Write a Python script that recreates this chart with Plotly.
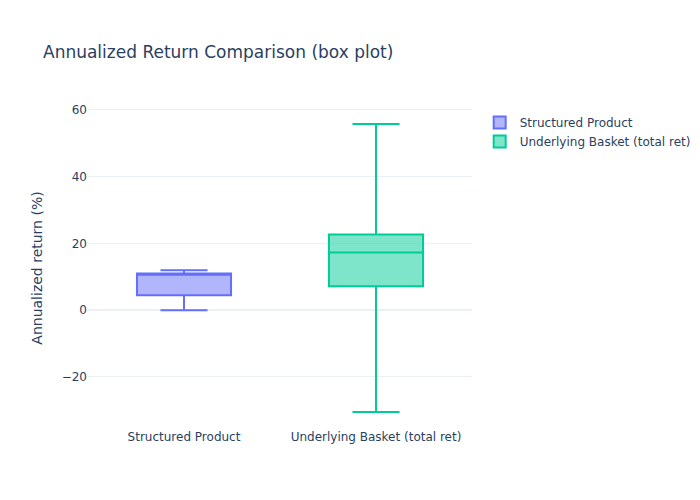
import plotly.graph_objects as go

names = ["Structured Product", "Underlying Basket (total ret)"]
lower = [0.0, -30.5]
q1 = [4.5, 7.2]
median = [10.6, 17.3]
q3 = [11.0, 22.7]
upper = [12.0, 55.8]
colors = ["#636efa", "#00cc96"]

fig = go.Figure()
for i, n in enumerate(names):
    fig.add_trace(go.Box(name=n, x=[n], q1=[q1[i]], median=[median[i]], q3=[q3[i]],
                         lowerfence=[lower[i]], upperfence=[upper[i]],
                         marker_color=colors[i]))
fig.update_layout(template="plotly_white", width=700, height=500,
                  font=dict(family="DejaVu Sans"),
                  title="Annualized Return Comparison (box plot)",
                  yaxis_title="Annualized return (%)")
fig.write_html("out.html")
